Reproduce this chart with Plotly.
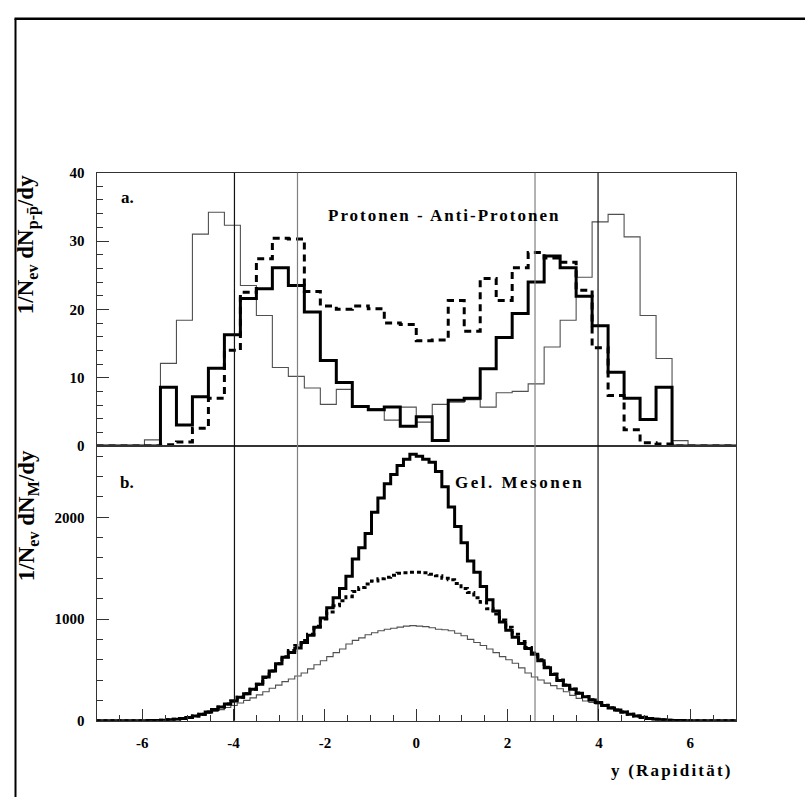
import numpy as np
import plotly.graph_objects as go

# ---------------- data ----------------
TOP_EDGES = np.round(np.linspace(-7, 7, 41), 3)   # 40 bins, width 0.35
BOT_EDGES = np.round(np.linspace(-7, 7, 101), 3)  # 100 bins, width 0.14

TOP_THIN = [0, 0, 0, 0.9, 12.1, 18.4, 31.0, 34.2, 32.3, 23.5, 19.1, 11.5, 10.2, 8.5, 6.1, 8.3,
            5.7, 5.5, 3.8, 5.7, 3.5, 6.1, 6.4, 6.8, 5.7, 7.8, 8.0, 9.1, 14.5, 18.4, 24.7, 32.8,
            33.9, 30.6, 19.1, 12.8, 0.8, 0, 0, 0]
TOP_THICK = [0, 0, 0, 0, 8.6, 3.1, 7.2, 11.4, 16.3, 21.6, 23.0, 26.1, 23.5, 19.6, 12.5, 9.3,
             5.8, 5.3, 5.7, 2.9, 4.3, 0.8, 6.7, 7.0, 11.3, 15.9, 19.4, 24.0, 27.8, 26.1, 21.9,
             17.6, 10.8, 7.0, 3.9, 8.6, 0, 0, 0, 0]
TOP_DASH = [0, 0, 0, 0, 0.2, 0.6, 2.6, 7.0, 14.0, 22.5, 27.4, 30.4, 30.3, 22.6, 20.5, 20.0,
            20.5, 20.1, 18.0, 17.8, 15.4, 15.5, 21.3, 16.8, 24.5, 21.3, 26.1, 28.3, 27.5, 26.9,
            22.8, 14.4, 7.4, 2.4, 0.5, 0.3, 0, 0, 0, 0]

BOT_SOLID = [0, 0, 0, 0, 0, 0, 0,
             0.5, 1.5, 3, 5, 9, 14, 22, 33, 48, 65, 85, 110, 135, 165, 195, 230, 265, 310, 360,
             430, 490, 560, 625, 670, 715, 770, 840, 920, 1010, 1110, 1210, 1300, 1420, 1590,
             1700, 1840, 2050, 2190, 2330, 2420, 2510, 2570, 2620,
             2600, 2570, 2540, 2450, 2300, 2100, 1910, 1750, 1570, 1460, 1320, 1190, 1080, 970,
             890, 820, 760, 710, 655, 590, 520, 455, 395, 350, 310, 270, 235, 205, 180, 150,
             125, 105, 85, 63, 47, 33, 22, 14, 9, 5, 3, 1.5, 0.5,
             0, 0, 0, 0, 0, 0, 0]
BOT_DASH = [0, 0, 0, 0, 0, 0, 0,
            0.5, 1.5, 3, 5, 9, 14, 22, 33, 48, 65, 85, 110, 135, 165, 195, 230, 265, 310, 360,
            425, 490, 560, 630, 690, 740, 790, 850, 930, 1000, 1070, 1130, 1180, 1220, 1270,
            1310, 1345, 1375, 1395, 1410, 1430, 1450, 1455, 1460,
            1460, 1455, 1440, 1425, 1400, 1385, 1350, 1300, 1260, 1210, 1165, 1100, 1050, 990,
            920, 850, 780, 720, 665, 600, 525, 460, 400, 352, 312, 272, 238, 207, 182, 152,
            127, 106, 86, 64, 48, 34, 22, 14, 9, 5, 3, 1.5, 0.5,
            0, 0, 0, 0, 0, 0, 0]
BOT_THIN = [0, 0, 0, 0, 0, 0, 0,
            0.5, 1.5, 3, 5, 8, 13, 20, 30, 42, 57, 75, 92, 110, 130, 150, 175, 200, 225, 255,
            285, 320, 350, 385, 410, 440, 470, 510, 550, 590, 630, 670, 705, 755, 790, 815,
            845, 865, 885, 900, 910, 920, 930, 935,
            930, 925, 915, 900, 895, 885, 860, 835, 800, 770, 740, 705, 670, 630, 600, 565,
            520, 470, 430, 400, 370, 345, 315, 285, 250, 220, 195, 180, 165, 140, 120, 100,
            80, 62, 46, 32, 22, 14, 9, 5, 3, 1.5, 0.5,
            0, 0, 0, 0, 0, 0, 0]

X_TICKS = [-6, -4, -2, 0, 2, 4, 6]
X_TICKTEXT = ["-6", "-4", "-2", "0", "2", "4", "6"]
TOP_YTICKS = [0, 10, 20, 30, 40]
BOT_YTICKS = [0, 1000, 2000]
VLINES = [-3.98, -2.6, 2.6, 3.98]
VLINE_COLORS = ["#111111", "#808080", "#808080", "#111111"]

# ---------------- layout helpers ----------------
W, H = 805, 801
def PX(v):
    return v / W
def PY(v):
    return 1 - v / H

FONT = "Liberation Serif"

def spaced(t, sp):
    return f'<span style="letter-spacing:{sp}px">{t}</span>'

def steps(edges, vals):
    return list(edges), list(vals) + [vals[-1]]

fig = go.Figure()

def add_hist(edges, vals, xa, ya, color, width, dash=None):
    x, y = steps(edges, vals)
    line = dict(color=color, width=width, shape="hv")
    if dash:
        line["dash"] = dash
    fig.add_trace(go.Scatter(x=x, y=y, mode="lines", line=line, xaxis=xa, yaxis=ya,
                             hoverinfo="skip", showlegend=False))

add_hist(TOP_EDGES, TOP_THIN, "x", "y", "#505050", 1.1)
add_hist(TOP_EDGES, TOP_DASH, "x", "y", "#000000", 3, "7px,5px")
add_hist(TOP_EDGES, TOP_THICK, "x", "y", "#000000", 3)
add_hist(BOT_EDGES, BOT_THIN, "x2", "y2", "#505050", 1.1)
add_hist(BOT_EDGES, BOT_DASH, "x2", "y2", "#000000", 3, "4px,3px")
add_hist(BOT_EDGES, BOT_SOLID, "x2", "y2", "#000000", 3)

tickfont = dict(family=FONT, size=15, color="black", weight="bold")
axcommon = dict(showline=True, mirror=True, linecolor="#333333", linewidth=1,
                showgrid=False, zeroline=False)

xdom = [PX(96.5), PX(736)]
top_dom = [PY(447), PY(168)]
bot_dom = [PY(727.3), PY(447)]

fig.update_layout(
    width=W, height=H,
    margin=dict(l=0, r=0, t=0, b=0),
    paper_bgcolor="white", plot_bgcolor="white",
    showlegend=False,
    xaxis=dict(domain=xdom, range=[-7, 7], anchor="y", showticklabels=False, ticks="",
               **axcommon),
    yaxis=dict(domain=top_dom, range=[0, 40], anchor="x", tickmode="array",
               tickvals=TOP_YTICKS, ticktext=[str(v) for v in TOP_YTICKS],
               ticks="inside", ticklen=12, tickwidth=1, tickcolor="#333333",
               minor=dict(ticks="inside", ticklen=6, tick0=0, dtick=2, tickcolor="#333333"),
               tickfont=tickfont, ticklabelstandoff=8, **axcommon),
    xaxis2=dict(domain=xdom, range=[-7, 7], anchor="y2", tickmode="array",
                tickvals=X_TICKS, ticktext=X_TICKTEXT,
                ticks="inside", ticklen=12, tickwidth=1, tickcolor="#333333",
                minor=dict(ticks="inside", ticklen=6, tick0=0, dtick=0.5, tickcolor="#333333"),
                tickfont=tickfont, ticklabelstandoff=8, **axcommon),
    yaxis2=dict(domain=bot_dom, range=[0, 2700], anchor="x2", tickmode="array",
                tickvals=BOT_YTICKS, ticktext=[str(v) for v in BOT_YTICKS],
                ticks="inside", ticklen=12, tickwidth=1, tickcolor="#333333",
                minor=dict(ticks="inside", ticklen=6, tick0=0, dtick=200, tickcolor="#333333"),
                tickfont=tickfont, ticklabelstandoff=8, **axcommon),
)

shapes = []
for xv, col in zip(VLINES, VLINE_COLORS):
    shapes.append(dict(type="line", xref="x2", yref="paper", x0=xv, x1=xv,
                       y0=bot_dom[0], y1=top_dom[1], line=dict(color=col, width=1.2)))
# outer frame (left and top edges)
shapes.append(dict(type="line", xref="paper", yref="paper", x0=PX(15.5), x1=PX(15.5),
                   y0=PY(11), y1=PY(805), line=dict(color="black", width=2)))
shapes.append(dict(type="line", xref="paper", yref="paper", x0=PX(14.5), x1=PX(810),
                   y0=PY(11), y1=PY(11), line=dict(color="black", width=2.5)))
fig.update_layout(shapes=shapes)

bold = lambda s: dict(family=FONT, size=s, color="black", weight="bold")
ann = [
    dict(text="a.", x=PX(119), y=PY(193), xanchor="left", yanchor="middle", font=bold(17)),
    dict(text="b.", x=PX(118), y=PY(484), xanchor="left", yanchor="middle", font=bold(17)),
    dict(text=spaced("Protonen - Anti-Protonen", 2), x=PX(326), y=PY(212), xanchor="left",
         yanchor="middle", font=bold(17)),
    dict(text=spaced("Gel. Mesonen", 2.5), x=PX(453), y=PY(484), xanchor="left",
         yanchor="middle", font=bold(17)),
    dict(text=spaced("y (Rapidität)", 2.2), x=PX(735), y=PY(778), xanchor="right",
         yanchor="middle", font=bold(17)),
    dict(text="1/N<sub>ev</sub> dN<sub>p-p\u0304</sub>/dy", x=PX(27.5), y=PY(241.5),
         xanchor="center", yanchor="middle", textangle=-90, font=bold(23)),
    dict(text="1/N<sub>ev</sub> dN<sub>M</sub>/dy", x=PX(27.5), y=PY(518),
         xanchor="center", yanchor="middle", textangle=-90, font=bold(23)),
]
for a in ann:
    a.update(xref="paper", yref="paper", showarrow=False)
fig.update_layout(annotations=ann)

fig.write_html("out.html")
